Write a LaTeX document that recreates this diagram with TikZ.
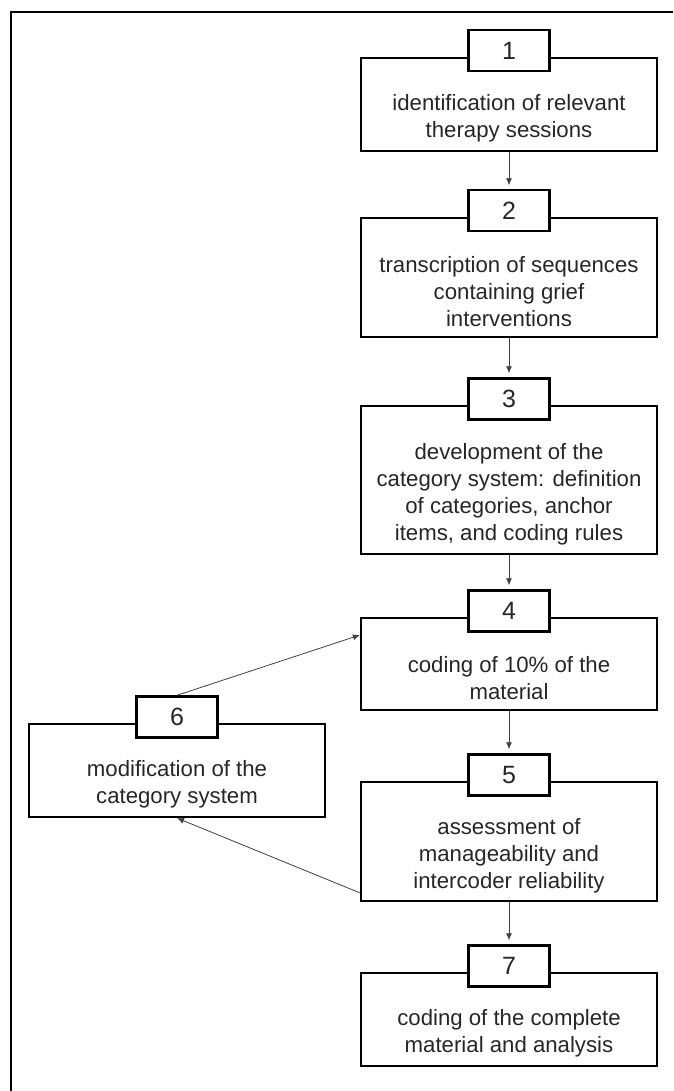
\documentclass[tikz,border=0pt]{standalone}
\usepackage{fontspec}
\setmainfont{Liberation Sans}
\usetikzlibrary{calc,arrows.meta}

\tikzset{
	stepbox/.style={draw=black, line width=2.2pt, minimum width=296pt, inner sep=0pt},
	numbox/.style={draw=black, line width=2.2pt, fill=white, minimum width=81pt, minimum height=41pt, inner sep=0pt, text=black!85, yshift=6pt, font=\fontsize{25}{27}\selectfont},
	steptext/.style={align=center, text=black!85, inner sep=0pt},
	flow/.style={-{Latex[length=7pt,width=6pt]}, line width=0.8pt, draw=black!75, shorten >=4pt}
}

\begin{document}
\begin{tikzpicture}[x=1pt, y=-1pt, font=\fontsize{22.2}{27}\selectfont]
			%%%%% START %%%%%
			\useasboundingbox (0, 0) rectangle (673, 1091);
			
			% frame
			\draw[line width=2.2pt] (11, 1091) -- (11, 12) -- (673, 12);
			
			% steps
			\node[stepbox, minimum height=93pt] (b1) at (509, 104.5) {};
			\node[numbox] (n1) at (b1.north) {1};
			\node[steptext] (t1) at ($(b1)+(0, 14)$) {identification of relevant\\therapy sessions};
			
			\node[stepbox, minimum height=119pt] (b2) at (509, 277.5) {};
			\node[numbox] (n2) at (b2.north) {2};
			\node[steptext] (t2) at ($(b2)+(0, 14)$) {transcription of sequences\\containing grief\\interventions};
			
			\node[stepbox, minimum height=148pt] (b3) at (509, 480) {};
			\node[numbox] (n3) at (b3.north) {3};
			\node[steptext] (t3) at ($(b3)+(0, 14)$) {development of the\\category system: definition\\of categories, anchor\\items, and coding rules};
			
			\node[stepbox, minimum height=92pt] (b4) at (509, 664) {};
			\node[numbox] (n4) at (b4.north) {4};
			\node[steptext] (t4) at ($(b4)+(0, 14)$) {coding of 10\% of the\\material};
			
			\node[stepbox, minimum height=119pt] (b5) at (509, 841.5) {};
			\node[numbox] (n5) at (b5.north) {5};
			\node[steptext] (t5) at ($(b5)+(0, 14)$) {assessment of\\manageability and\\intercoder reliability};
			
			\node[stepbox, minimum height=93pt] (b6) at (177, 770.5) {};
			\node[numbox] (n6) at (b6.north) {6};
			\node[steptext] (t6) at ($(b6)+(0, 14)$) {modification of the\\category system};
			
			\node[stepbox, minimum height=93pt] (b7) at (509, 1019.5) {};
			\node[numbox] (n7) at (b7.north) {7};
			\node[steptext] (t7) at ($(b7)+(0, 14)$) {coding of the complete\\material and analysis};
			
			% arrows
			\draw[flow] (b1.south) -- (n2.north);
			\draw[flow] (b2.south) -- (n3.north);
			\draw[flow] (b3.south) -- (n4.north);
			\draw[flow] (b4.south) -- (n5.north);
			\draw[flow] (b5.south) -- (n7.north);
			\draw[flow, shorten >=0pt] (n6.north) -- (b4.169);
			\draw[flow, shorten >=0pt] (b5.199) -- (b6.south);
			
			%%%%% END %%%%%
		\end{tikzpicture}
\end{document}
